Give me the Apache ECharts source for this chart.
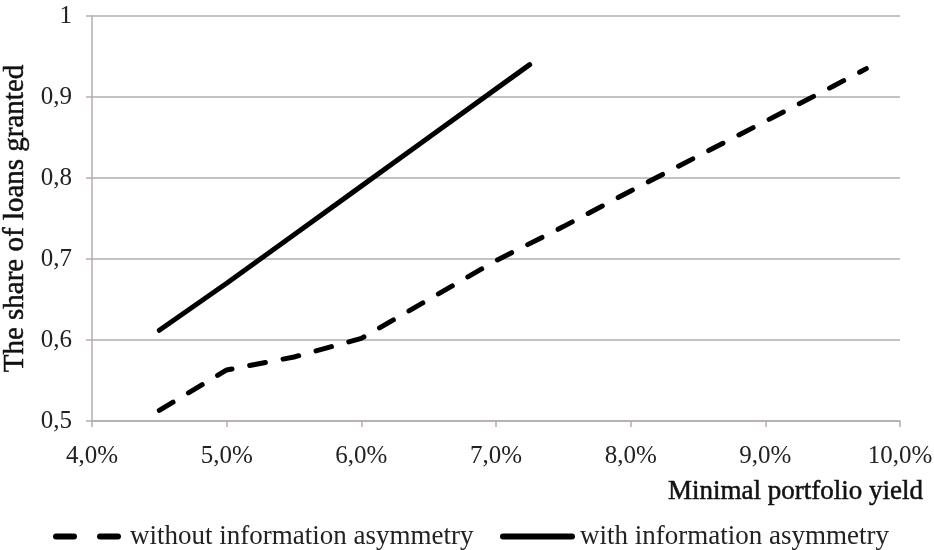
<!DOCTYPE html>
<html><head><meta charset="utf-8">
<script src="https://cdn.jsdelivr.net/npm/echarts@6/dist/echarts.min.js"></script>
<style>html,body{margin:0;padding:0;background:#fff}#c{width:934px;height:550px}</style>
</head><body><div id="c"></div>
<script>
const yieldWithout = [4.5, 5.0, 5.5, 6.0, 6.5, 7.0, 7.5, 8.0, 8.5, 9.0, 9.5, 9.75];
const shareWithout = [0.513, 0.563, 0.579, 0.602, 0.650, 0.698, 0.740, 0.784, 0.827, 0.870, 0.913, 0.935];
const yieldWith = [4.5, 5.0, 5.5, 6.0, 6.5, 7.0, 7.25];
const shareWith = [0.612, 0.670, 0.730, 0.790, 0.850, 0.910, 0.940];
const seriesNames = ['without information asymmetry', 'with information asymmetry'];
const xAxisTitle = 'Minimal portfolio yield';
const yAxisTitle = 'The share of loans granted';

const font = 'Liberation Serif';
const grey = '#b5adaa';
const chart = echarts.init(document.getElementById('c'));
const pairs = (xs, ys) => xs.map((x, i) => [x, ys[i]]);
const dashIcon = 'path://M3,0H21A3,3 0 0 1 21,6H3A3,3 0 0 1 3,0Z M47,0H65A3,3 0 0 1 65,6H47A3,3 0 0 1 47,0Z';
const solidIcon = 'path://M3,0H72A3,3 0 0 1 72,6H3A3,3 0 0 1 3,0Z';
const legendText = {fontFamily: font, fontSize: 27, color: '#222'};
chart.setOption({
  animation: false,
  grid: {left: 92, right: 34, top: 16, bottom: 129, containLabel: false, outerBoundsMode: 'none'},
  xAxis: {
    type: 'value', min: 4, max: 10, interval: 1,
    axisLine: {show: true, lineStyle: {color: grey, width: 1.5}},
    axisTick: {show: true, length: 6, lineStyle: {color: grey, width: 1.5}},
    splitLine: {show: false},
    axisLabel: {color: '#222', fontFamily: font, fontSize: 25, margin: 23,
      formatter: v => v.toFixed(1).replace('.', ',') + '%'},
    name: xAxisTitle, nameLocation: 'end', nameGap: 23,
    nameTextStyle: {fontFamily: font, fontSize: 27, color: '#111', textBorderColor: '#111', textBorderWidth: 0.5,
      align: 'right', verticalAlign: 'top', padding: [57, 0, 0, 0]}
  },
  yAxis: {
    type: 'value', min: 0.5, max: 1, interval: 0.1,
    axisLine: {show: true, lineStyle: {color: grey, width: 1.5}},
    axisTick: {show: true, length: 6, lineStyle: {color: grey, width: 1.5}},
    splitLine: {show: true, lineStyle: {color: grey, width: 1.5}},
    axisLabel: {color: '#222', fontFamily: font, fontSize: 25, margin: 20,
      formatter: v => (Math.abs(v - 1) < 1e-9 ? '1' : v.toFixed(1).replace('.', ','))},
    name: yAxisTitle, nameLocation: 'middle', nameGap: 52, nameRotate: 90,
    nameTextStyle: {fontFamily: font, fontSize: 29, color: '#111', textBorderColor: '#111', textBorderWidth: 0.5}
  },
  legend: [
    {left: 48, top: 518, itemWidth: 68, itemHeight: 6, icon: dashIcon,
      textStyle: Object.assign({padding: [0, 0, 0, 4]}, legendText), data: [seriesNames[0]]},
    {left: 495, top: 518, itemWidth: 75, itemHeight: 6, icon: solidIcon,
      textStyle: Object.assign({padding: [0, 0, 0, 0]}, legendText), data: [seriesNames[1]]}
  ],
  series: [
    {name: seriesNames[0], type: 'line', symbol: 'none', data: pairs(yieldWithout, shareWithout),
      lineStyle: {color: '#000', width: 5, type: [16, 18], cap: 'round'}, itemStyle: {color: '#000'}},
    {name: seriesNames[1], type: 'line', symbol: 'none', data: pairs(yieldWith, shareWith),
      lineStyle: {color: '#000', width: 5, cap: 'round'}, itemStyle: {color: '#000'}}
  ]
});
</script></body></html>
